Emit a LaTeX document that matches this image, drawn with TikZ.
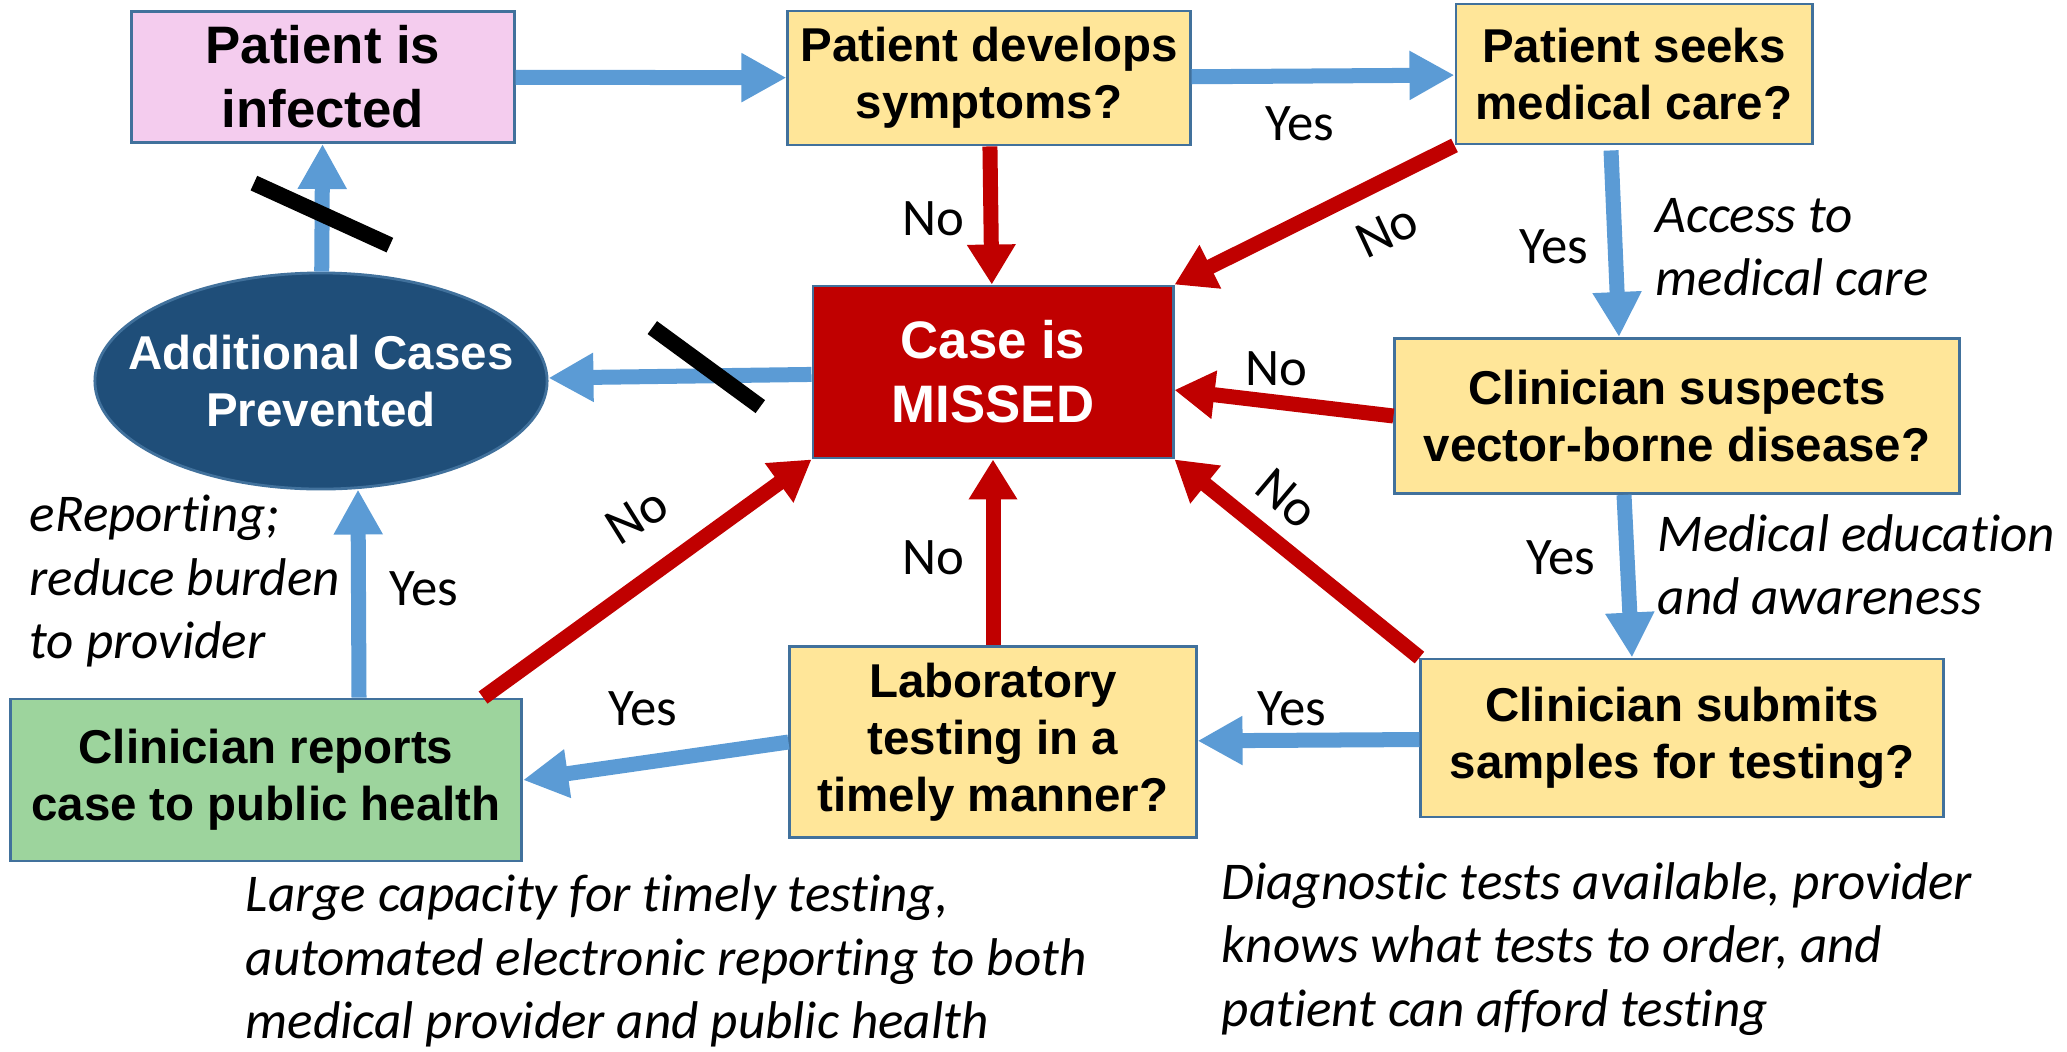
\documentclass[tikz,border=0pt]{standalone}
\usepackage{fontspec}
\setmainfont{Liberation Sans}
\newfontfamily\calibri[Ligatures=NoCommon]{Carlito}
\usetikzlibrary{arrows.meta,calc,positioning,shapes.geometric}
\definecolor{boxline}{HTML}{41719C}
\definecolor{qyellow}{HTML}{FFE699}
\definecolor{qpink}{HTML}{F4CCEE}
\definecolor{qgreen}{RGB}{157,212,157}
\definecolor{missred}{HTML}{C00000}
\definecolor{arrowblue}{HTML}{5B9BD5}
\definecolor{navy}{HTML}{1F4E79}
\tikzset{box/.style={draw=boxline,line width=0.8pt,fill=qyellow,align=center,inner sep=0pt,
    font=\bfseries\fontsize{13.5}{16.2}\selectfont},
  big/.style={font=\bfseries\fontsize{15}{18.2}\selectfont},
  yes/.style={color=arrowblue,line width=0.15cm,-{Triangle[length=0.45cm,width=0.46cm]}},
  no/.style={color=missred,line width=0.15cm,-{Triangle[length=0.4cm,width=0.46cm]}},
  lbl/.style={font=\calibri\fontsize{15}{18}\selectfont},
  note/.style={font=\calibri\itshape\fontsize{15.1}{18}\selectfont,align=left,anchor=west,inner sep=0pt},
  cut/.style={draw=black,line width=0.16cm}}

\begin{document}
\begin{tikzpicture}[x=0.01cm,y=-0.01cm]
  \useasboundingbox (0,0) rectangle (2067,1051);
  \node[box,big,fill=qpink,minimum width=3.82cm,minimum height=1.31cm] (inf) at (323,77) {Patient is\\infected};
  \node[box,minimum width=4.02cm,minimum height=1.34cm] (dev) at (989,78) {Patient develops\\symptoms?};
  \node[box,minimum width=3.56cm,minimum height=1.4cm] (seeks) at (1634,74) {Patient seeks\\medical care?};
  \node[box,big,fill=missred,text=white,minimum width=3.6cm,minimum height=1.72cm] (missed) at (993,372) {Case is\\MISSED};
  \node[ellipse,draw=boxline,line width=0.8pt,fill=navy,text=white,align=center,inner xsep=-0.35cm,inner ysep=0pt,
    font=\bfseries\fontsize{13.5}{16.2}\selectfont,minimum width=4.52cm,minimum height=2.16cm] (prev) at (321,381) {Additional Cases\\Prevented};
  \node[box,minimum width=5.64cm,minimum height=1.55cm] (susp) at (1677,416) {Clinician suspects\\vector-borne disease?};
  \node[box,minimum width=5.22cm,minimum height=1.58cm] (sub) at (1682,738) {Clinician submits\\samples for testing?};
  \node[box,minimum width=4.06cm,minimum height=1.91cm] (lab) at (993,742) {Laboratory\\testing in a\\timely manner?};
  \node[box,fill=qgreen,minimum width=5.11cm,minimum height=1.62cm] (rep) at (266,780) {Clinician reports\\case to public health};

  \path[yes]
    (inf) edge (dev)
    (dev) edge (seeks)
    ($(seeks.south)+(-23,5)$) edge ($(susp.north)+(-58,0)$)
    ($(susp.south)+(-53,0)$) edge ($(sub.north)+(-50,0)$)
    (sub) edge (lab)
    (lab.west) edge (rep.east)
    ($(rep.north)+(93,0)$) edge ($(prev.south)+(37,-1)$)
    (prev) edge (inf)
    (missed) edge (prev);
  \path[no]
    (dev) edge (missed)
    (seeks.south west) edge (missed.north east)
    (susp.west) edge ($(missed.east)+(0,18)$)
    (sub.north west) edge (missed.south east)
    (lab) edge (missed)
    ($(rep.north east)+(-40,0)$) edge (missed.south west);

  \draw[cut] ($(prev.north)!0.45!(inf.south)$) +(-68,-31) -- +(68,31);
  \draw[cut] ($(missed.west)!0.4!(prev.east)$) +(-54,-48) -- +(54,31);

  \node[lbl] (y1) at (1300,124) {Yes};
  \node[lbl] (n1) at (933,219) {No};
  \node[lbl,rotate=25] (n2) at (1387,231) {No};
  \node[lbl] (y2) at (1554,247) {Yes};
  \node[lbl] (n3) at (1276,369) {No};
  \node[lbl,rotate=-40] (n4) at (1287,499) {No};
  \node[lbl] (y3) at (1561,558) {Yes};
  \node[lbl] (y4) at (1292,709) {Yes};
  \node[lbl] (n5) at (933,558) {No};
  \node[lbl] (y5) at (643,709) {Yes};
  \node[lbl,rotate=32] (n6) at (637,516) {No};
  \node[lbl] (y6) at (424,589) {Yes};

  \node[note] (access) at (1655,247) {Access to\\medical care};
  \node[note] (educ) at (1657,565) {Medical education\\and awareness};
  \node[note] (erep) at (29,581) {eReporting;\\reduce burden\\to provider};
  \node[note] (capac) at (245,961) {Large capacity for timely testing,\\automated electronic reporting to both\\medical provider and public health};
  \node[note] (diag) at (1221,949) {Diagnostic tests available, provider\\knows what tests to order, and\\patient can afford testing};
\end{tikzpicture}
\end{document}
